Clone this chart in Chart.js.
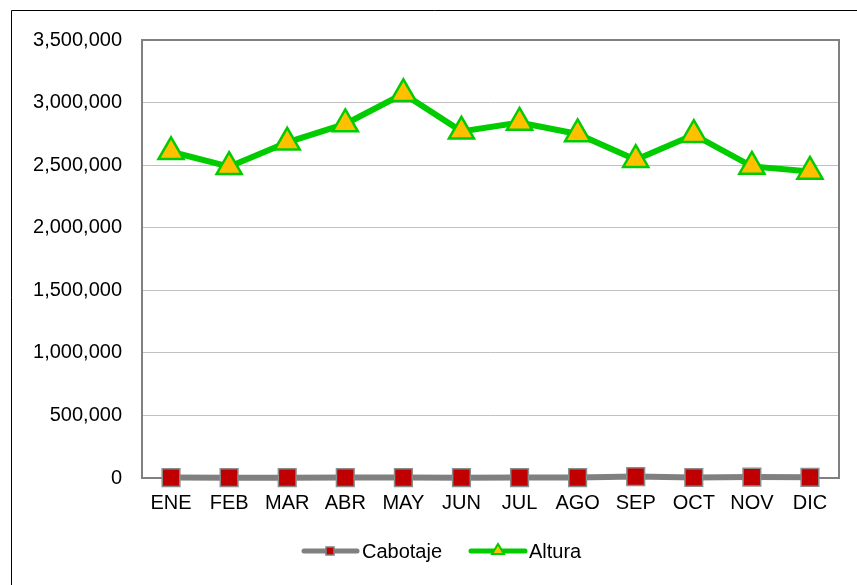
<!DOCTYPE html>
<html>
<head>
<meta charset="utf-8">
<script src="https://cdn.jsdelivr.net/npm/chart.js@4/dist/chart.umd.min.js"></script>
<style>
  html, body { margin: 0; padding: 0; background: #fff; }
  #wrap { width: 857px; height: 585px; position: relative; }
</style>
</head>
<body>
<div id="wrap"><canvas id="myChart" width="857" height="585"></canvas></div>
<script>
// data
var meses = ["ENE", "FEB", "MAR", "ABR", "MAY", "JUN", "JUL", "AGO", "SEP", "OCT", "NOV", "DIC"];
var cabotaje = [3000, 2500, 2800, 3000, 3200, 2900, 3100, 3000, 11000, 4000, 7000, 5000];
var altura = [2607000, 2488000, 2682000, 2829000, 3070000, 2770000, 2841000, 2749000, 2544000, 2743000, 2490000, 2450000];
var yTicks = [0, 500000, 1000000, 1500000, 2000000, 2500000, 3000000, 3500000];

var FONT = "'Liberation Sans', Arial, sans-serif";

// outer frame, plot-area box and the legend
var marco = {
    id: "marco",
    beforeDatasetsDraw(chart) {
        let ctx = chart.ctx;
        let a = chart.chartArea;
        ctx.save();
        ctx.strokeStyle = "#000";
        ctx.lineWidth = 1;
        ctx.beginPath();
        ctx.moveTo(11.5, 585);
        ctx.lineTo(11.5, 10.5);
        ctx.lineTo(857, 10.5);
        ctx.stroke();
        ctx.strokeStyle = "#808080";
        ctx.lineWidth = 2;
        ctx.strokeRect(a.left, a.top, a.right - a.left, a.bottom - a.top);
        ctx.restore();
    },
    afterDraw(chart) {
        let ctx = chart.ctx;
        let y = 551;
        ctx.save();
        // Cabotaje
        ctx.strokeStyle = "#808080";
        ctx.lineWidth = 5;
        ctx.lineCap = "round";
        ctx.beginPath();
        ctx.moveTo(304, y);
        ctx.lineTo(357, y);
        ctx.stroke();
        ctx.fillStyle = "#c00000";
        ctx.lineWidth = 1.5;
        ctx.fillRect(326, y - 4, 8, 8);
        ctx.strokeRect(326, y - 4, 8, 8);
        // Altura
        ctx.strokeStyle = "#00cc00";
        ctx.lineWidth = 5;
        ctx.beginPath();
        ctx.moveTo(471, y);
        ctx.lineTo(525, y);
        ctx.stroke();
        ctx.fillStyle = "#ffc000";
        ctx.lineWidth = 2;
        ctx.beginPath();
        ctx.moveTo(498, y - 7);
        ctx.lineTo(504, y + 3);
        ctx.lineTo(492, y + 3);
        ctx.closePath();
        ctx.fill();
        ctx.stroke();
        ctx.fillStyle = "#000";
        ctx.font = "20px " + FONT;
        ctx.textBaseline = "middle";
        ctx.fillText("Cabotaje", 362, y + 1);
        ctx.fillText("Altura", 529, y + 1);
        ctx.restore();
    }
};

new Chart("myChart", {
    type: "line",
    data: {
        labels: meses,
        datasets: [{
            label: "Cabotaje",
            data: cabotaje,
            clip: false,
            borderColor: "#808080",
            borderWidth: 6,
            pointStyle: "rect",
            pointRadius: 12.5,
            pointBackgroundColor: "#c00000",
            pointBorderColor: "#8c8c8c",
            pointBorderWidth: 1.5,
            tension: 0
        }, {
            label: "Altura",
            data: altura,
            clip: false,
            borderColor: "#00cc00",
            borderWidth: 6,
            pointStyle: "triangle",
            pointRadius: 14.5,
            pointBackgroundColor: "#ffc000",
            pointBorderColor: "#00cc00",
            pointBorderWidth: 2.5,
            tension: 0
        }]
    },
    options: {
        responsive: false,
        animation: false,
        layout: { padding: { top: 40, right: 18, left: 0, bottom: 0 } },
        plugins: {
            legend: { display: false },
            tooltip: { enabled: false }
        },
        scales: {
            x: {
                offset: true,
                grid: { display: false, drawTicks: false },
                border: { display: false },
                ticks: { color: "#000", font: { family: FONT, size: 20 }, padding: 13, maxRotation: 0, autoSkip: false },
                afterFit(scale) { scale.height = 107; }
            },
            y: {
                min: 0,
                max: 3500000,
                grid: { color: "#c0c0c0", lineWidth: 1, drawTicks: false },
                border: { display: false },
                afterBuildTicks(scale) { scale.ticks = yTicks.map(v => ({ value: v })); },
                ticks: {
                    color: "#000",
                    font: { family: FONT, size: 20 },
                    padding: 20,
                    callback: v => v.toLocaleString("en-US")
                },
                afterFit(scale) { scale.width = 142; }
            }
        }
    },
    plugins: [marco]
});
</script>
</body>
</html>
